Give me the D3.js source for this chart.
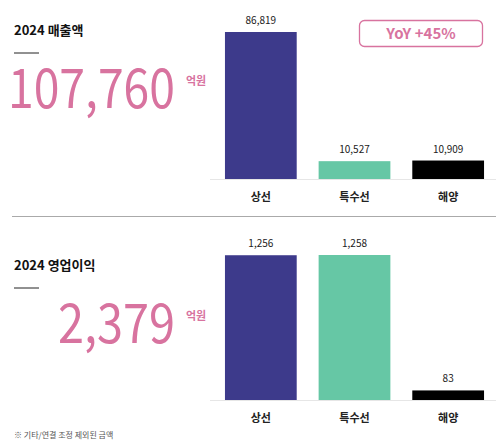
<!DOCTYPE html>
<html><head><meta charset="utf-8">
<script src="https://cdn.jsdelivr.net/npm/d3@7"></script>
<style>body{margin:0;background:#fff}text{font-family:"Noto Sans CJK KR","Noto Sans",sans-serif}</style>
</head><body><svg id="c" width="500" height="441"></svg>
<script>
const categories=["상선","특수선","해양"];
const revenue=[86819,10527,10909];
const profit=[1256,1258,83];
const colors=["#3d3a8b","#66c7a5","#000000"];
const svg=d3.select("#c");
const pink="#d8739f";
const x=d3.scaleBand().domain(categories).range([214,495]).paddingInner(0.234).paddingOuter(0.117);
const fmt=d3.format(",");
function panel(vals,base,maxH,maxV,title,big,bigX,top){
  const y=d3.scaleLinear().domain([0,maxV]).range([base,base-maxH]);
  svg.append("line").attr("x1",210).attr("x2",496).attr("y1",base+0.5).attr("y2",base+0.5).attr("stroke","#e6e6e6");
  svg.selectAll(null).data(vals).enter().append("rect")
    .attr("x",(d,i)=>x(categories[i])).attr("width",x.bandwidth())
    .attr("y",d=>y(d)).attr("height",d=>base-y(d)).attr("fill",(d,i)=>colors[i]);
  svg.selectAll(null).data(vals).enter().append("text")
    .attr("x",(d,i)=>x(categories[i])+x.bandwidth()/2).attr("y",d=>y(d)-8)
    .attr("text-anchor","middle").attr("font-size",10).attr("fill","#222").text(d=>fmt(d));
  svg.selectAll(null).data(categories).enter().append("text")
    .attr("x",d=>x(d)+x.bandwidth()/2).attr("y",base+22).attr("text-anchor","middle")
    .attr("font-size",11).attr("font-weight",700).attr("fill","#222").text(d=>d);
  svg.append("text").attr("x",14).attr("y",top).attr("font-size",13).attr("font-weight",700).attr("fill","#111").text(title);
  svg.append("line").attr("x1",14).attr("x2",39).attr("y1",top+18).attr("y2",top+18).attr("stroke","#222").attr("stroke-width",1);
  svg.append("text").attr("x",bigX).attr("y",top+73).attr("font-size",54)
    .attr("textLength",175-bigX).attr("lengthAdjust","spacingAndGlyphs")
    .attr("fill",pink).attr("font-family","Noto Sans, sans-serif").text(big);
  svg.append("text").attr("x",186).attr("y",top+50).attr("font-size",11).attr("font-weight",700).attr("fill",pink).text("억원");
}
panel(revenue,179,147,86819,"2024 매출액","107,760",8,35);
panel(profit,400,145,1258,"2024 영업이익","2,379",58,270);
svg.append("line").attr("x1",12).attr("x2",496).attr("y1",216.5).attr("y2",216.5).attr("stroke","#aaa").attr("stroke-width",1.2);
svg.append("rect").attr("x",359.5).attr("y",20.5).attr("width",123).attr("height",26).attr("rx",5).attr("fill","#fff").attr("stroke",pink).attr("stroke-width",1.3);
svg.append("text").attr("x",421).attr("y",39).attr("text-anchor","middle").attr("font-size",15).attr("font-weight",700).attr("fill",pink).text("YoY +45%");
svg.append("text").attr("x",14).attr("y",438).attr("font-size",8).attr("fill","#555").text("※ 기타/연결 조정 제외된 금액");
</script></body></html>
